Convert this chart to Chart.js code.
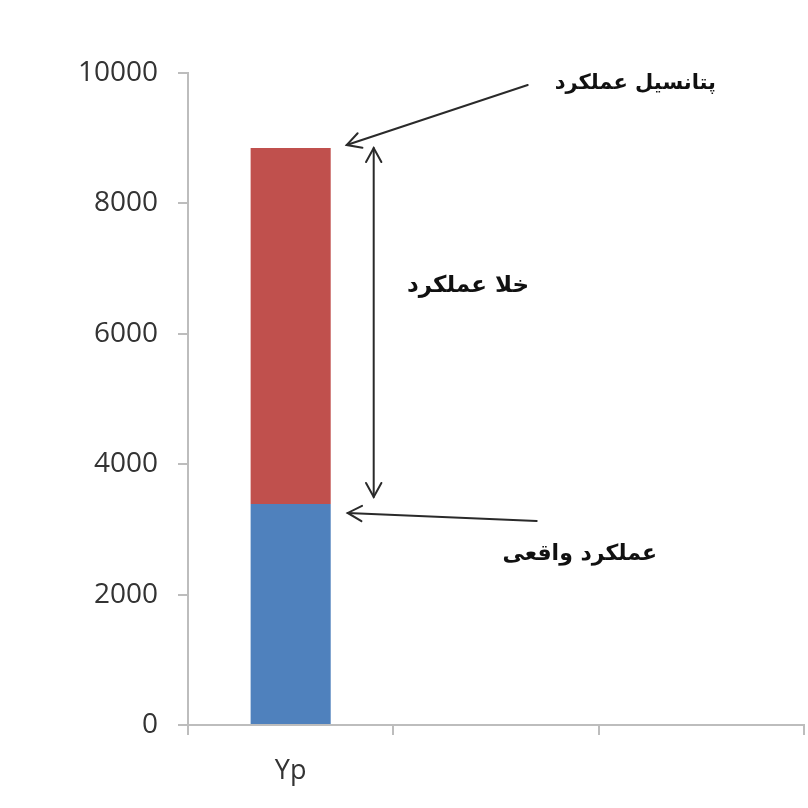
<!DOCTYPE html>
<html lang="fa">
<head>
    <meta charset="UTF-8">
    <title>Yield gap</title>
    <script src="https://cdn.jsdelivr.net/npm/chart.js"></script>
    <style>
        html, body { margin: 0; padding: 0; background: #fff; }
        #wrap { width: 808px; height: 808px; }
    </style>
</head>
<body>
    <div id="wrap"><canvas id="gap-chart"></canvas></div>

    <script>
        // categories (only the first one carries a bar)
        const categories = ['Yp', '', ''];
        // actual yield and yield gap, stacked
        const actualYield = [3390, null, null];
        const yieldGap = [5460, null, null];
        const yTicks = [0, 2000, 4000, 6000, 8000, 10000];

        const labelActual = 'عملکرد واقعی';
        const labelGap = 'خلا عملکرد';
        const labelPotential = 'پتانسیل عملکرد';

        function arrowHead(ctx, x1, y1, x2, y2, len) {
            const a = Math.atan2(y2 - y1, x2 - x1);
            ctx.beginPath();
            ctx.moveTo(x2 - len * Math.cos(a - 0.5), y2 - len * Math.sin(a - 0.5));
            ctx.lineTo(x2, y2);
            ctx.lineTo(x2 - len * Math.cos(a + 0.5), y2 - len * Math.sin(a + 0.5));
            ctx.stroke();
        }

        function arrow(ctx, x1, y1, x2, y2) {
            ctx.beginPath();
            ctx.moveTo(x1, y1);
            ctx.lineTo(x2, y2);
            ctx.stroke();
            arrowHead(ctx, x1, y1, x2, y2, 16);
        }

        // arrows and persian notes next to the bar
        const notesPlugin = {
            id: 'notes',
            afterDatasetsDraw(chart) {
                const ctx = chart.ctx;
                const y = chart.scales.y;
                const bar = chart.getDatasetMeta(1).data[0];
                const right = bar.x + bar.width / 2;
                const topPx = y.getPixelForValue(actualYield[0] + yieldGap[0]);
                const midPx = y.getPixelForValue(actualYield[0]);

                ctx.save();
                ctx.strokeStyle = '#2a2a2a';
                ctx.lineWidth = 2;
                ctx.lineCap = 'round';

                // potential yield arrow
                arrow(ctx, right + 197, 85, right + 16, topPx - 3);
                // actual yield arrow
                arrow(ctx, right + 206, midPx + 17, right + 17, midPx + 9);
                // double arrow for the gap
                const gx = right + 43;
                ctx.beginPath();
                ctx.moveTo(gx, topPx);
                ctx.lineTo(gx, midPx - 7);
                ctx.stroke();
                arrowHead(ctx, gx, midPx, gx, topPx, 16);
                arrowHead(ctx, gx, topPx, gx, midPx - 7, 16);

                ctx.fillStyle = '#111';
                ctx.direction = 'rtl';
                ctx.textAlign = 'right';
                ctx.textBaseline = 'middle';
                ctx.font = 'bold 21px "DejaVu Sans"';
                ctx.fillText(labelPotential, 716, 84);
                ctx.font = 'bold 23px "DejaVu Sans"';
                ctx.fillText(labelGap, 529, 286);
                ctx.font = 'bold 22px "DejaVu Sans"';
                ctx.fillText(labelActual, 657, 554);
                ctx.restore();
            }
        };

        const ctx = document.getElementById('gap-chart').getContext('2d');
        new Chart(ctx, {
            type: 'bar',
            data: {
                labels: categories,
                datasets: [
                    {
                        label: labelActual,
                        data: actualYield,
                        backgroundColor: '#4F81BD',
                        barPercentage: 0.39,
                        categoryPercentage: 1
                    },
                    {
                        label: labelGap,
                        data: yieldGap,
                        backgroundColor: '#C0504D',
                        barPercentage: 0.39,
                        categoryPercentage: 1
                    }
                ]
            },
            options: {
                responsive: true,
                maintainAspectRatio: false,
                animation: false,
                layout: { padding: { top: 73, right: 4, left: 0, bottom: 0 } },
                plugins: {
                    legend: { display: false },
                    tooltip: { enabled: false }
                },
                scales: {
                    x: {
                        stacked: true,
                        grid: {
                            offset: true,
                            drawOnChartArea: false,
                            tickLength: 10,
                            color: '#bdbdbd',
                            lineWidth: 2
                        },
                        border: { color: '#bdbdbd', width: 2 },
                        ticks: {
                            color: '#333',
                            padding: 20,
                            font: { family: 'Open Sans', size: 27 }
                        },
                        afterFit(scale) { scale.height = 83; }
                    },
                    y: {
                        stacked: true,
                        min: yTicks[0],
                        max: yTicks[yTicks.length - 1],
                        afterBuildTicks(scale) {
                            scale.ticks = yTicks.map(v => ({ value: v }));
                        },
                        grid: {
                            drawOnChartArea: false,
                            tickLength: 10,
                            color: '#bdbdbd',
                            lineWidth: 2
                        },
                        border: { color: '#bdbdbd', width: 2 },
                        ticks: {
                            color: '#333',
                            padding: 20,
                            font: { family: 'Open Sans', size: 28 },
                            callback: v => String(v)
                        },
                        afterFit(scale) { scale.width = 188; }
                    }
                }
            },
            plugins: [notesPlugin]
        });
    </script>
</body>
</html>
